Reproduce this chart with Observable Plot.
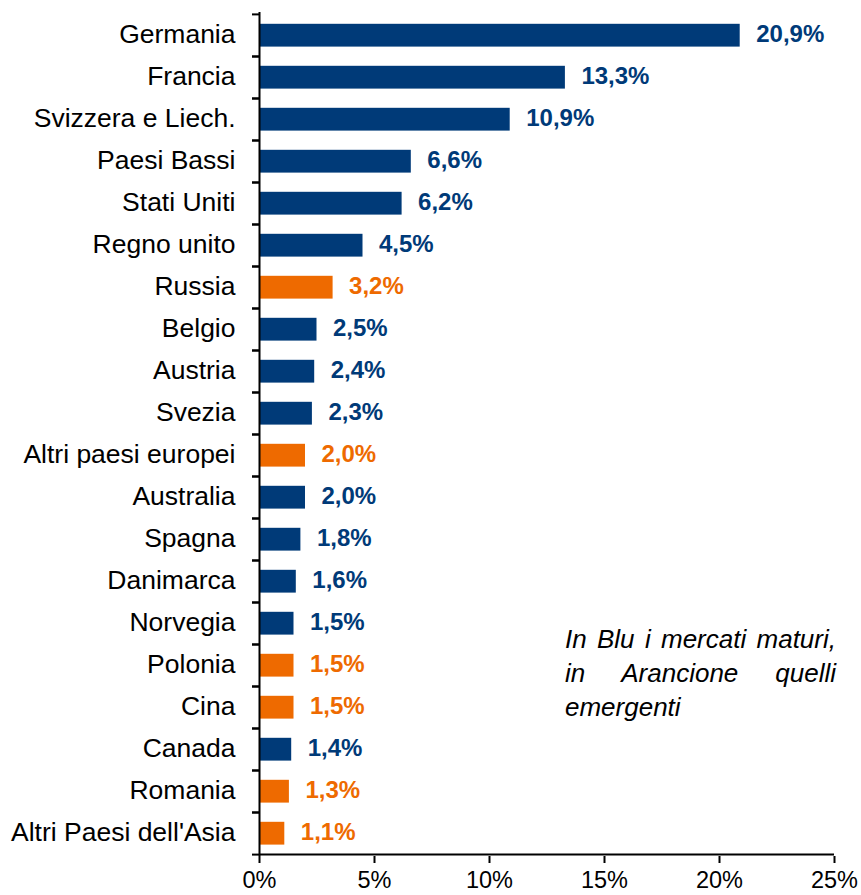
<!DOCTYPE html>
<html>
<head>
<meta charset="utf-8">
<script src="https://cdn.jsdelivr.net/npm/d3@7"></script>
<script src="https://cdn.jsdelivr.net/npm/@observablehq/plot@0.6"></script>
<style>
  html, body { margin: 0; padding: 0; background: #fff; }
  #wrap { position: relative; width: 861px; height: 895px; font-family: "Liberation Sans", Arial, sans-serif; }
  #wrap svg { display: block; font-family: "Liberation Sans", Arial, sans-serif; }
  #note {
    position: absolute; left: 565px; top: 622px; width: 271px;
    font-style: italic; font-size: 26px; line-height: 34px;
    text-align: justify; color: #000;
  }
</style>
</head>
<body>
<div id="wrap"></div>
<script>
const countries = ["Germania", "Francia", "Svizzera e Liech.", "Paesi Bassi", "Stati Uniti", "Regno unito", "Russia", "Belgio", "Austria", "Svezia", "Altri paesi europei", "Australia", "Spagna", "Danimarca", "Norvegia", "Polonia", "Cina", "Canada", "Romania", "Altri Paesi dell'Asia"];
const values = [20.9, 13.3, 10.9, 6.6, 6.2, 4.5, 3.2, 2.5, 2.4, 2.3, 2.0, 2.0, 1.8, 1.6, 1.5, 1.5, 1.5, 1.4, 1.3, 1.1];
const marketType = ["maturo", "maturo", "maturo", "maturo", "maturo", "maturo", "emergente", "maturo", "maturo", "maturo", "emergente", "maturo", "maturo", "maturo", "maturo", "emergente", "emergente", "maturo", "emergente", "emergente"];
const xTicks = [0, 5, 10, 15, 20, 25];
const noteText = "In Blu i mercati maturi, in Arancione quelli emergenti";

const BLUE = "#003A78";
const ORANGE = "#EE6A00";
const data = countries.map((c, i) => ({country: c, value: values[i], type: marketType[i]}));
const colorOf = d => d.type === "emergente" ? ORANGE : BLUE;
const fmt = v => v.toFixed(1).replace(".", ",") + "%";

const marginTop = 12, marginBottom = 39, height = 895;
const bw = (height - marginTop - marginBottom) / countries.length;

const chart = Plot.plot({
  width: 861,
  height,
  marginLeft: 259,
  marginRight: 27,
  marginTop,
  marginBottom,
  x: {domain: [0, 25], axis: null},
  y: {domain: countries, padding: 0, axis: null},
  marks: [
    Plot.barX(data, {x: "value", y: "country", fill: colorOf, insetTop: 9.8, insetBottom: 9.4}),
    Plot.text(data, {x: "value", y: "country", text: d => fmt(d.value), fill: colorOf, dx: 16, dy: -1, textAnchor: "start", fontWeight: "bold", fontSize: 24}),
    Plot.axisY({tickSize: 0, tickPadding: 24, fontSize: 26.5, fill: "#000", dy: -1, label: null}),
    Plot.axisY({tickSize: 7, tickFormat: () => "", dy: -bw / 2, strokeWidth: 2, stroke: "#000", label: null}),
    Plot.axisY({tickSize: 7, tickFormat: () => "", dy: bw / 2, strokeWidth: 2, stroke: "#000", label: null}),
    Plot.ruleX([0], {stroke: "#000", strokeWidth: 2}),
    Plot.ruleY([countries[countries.length - 1]], {y: d => d, x1: 0, x2: 25, dy: bw / 2, stroke: "#000", strokeWidth: 2}),
    Plot.axisX({ticks: xTicks, tickFormat: d => d + "%", tickSize: 7, tickPadding: 8, fontSize: 23.5, strokeWidth: 2, fill: "#000", label: null})
  ]
});
const wrap = document.getElementById("wrap");
wrap.appendChild(chart);
const note = document.createElement("div");
note.id = "note";
note.textContent = noteText;
wrap.appendChild(note);
</script>
</body>
</html>
